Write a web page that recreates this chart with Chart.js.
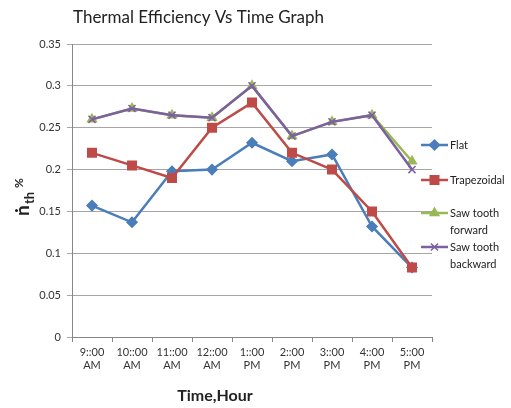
<!DOCTYPE html>
<html>
<head>
<meta charset="utf-8">
<script src="https://cdn.jsdelivr.net/npm/chart.js@4"></script>
<style>
  html, body { margin: 0; padding: 0; background: #fff; }
  #wrap { width: 511px; height: 408px; }
</style>
</head>
<body>
<div id="wrap"><canvas id="chart"></canvas></div>
<script>
// data
const timeLabels = [
  ["9::00", "AM"], ["10::00", "AM"], ["11::00", "AM"], ["12::00", "AM"],
  ["1::00", "PM"], ["2::00", "PM"], ["3::00", "PM"], ["4::00", "PM"], ["5::00", "PM"],
];
const flat = [0.157, 0.137, 0.198, 0.2, 0.232, 0.21, 0.218, 0.132, 0.083];
const trapezoidal = [0.22, 0.205, 0.19, 0.25, 0.28, 0.22, 0.2, 0.15, 0.083];
const sawForward = [0.26, 0.273, 0.265, 0.262, 0.3, 0.24, 0.257, 0.265, 0.21];
const sawBackward = [0.26, 0.273, 0.265, 0.262, 0.3, 0.24, 0.257, 0.265, 0.2];
const seriesNames = [["Flat"], ["Trapezoidal"], ["Saw tooth", "forward"], ["Saw tooth", "backward"]];

const FONT = "Lato, 'Open Sans', sans-serif";

// title, axis titles and the legend are drawn by hand (Excel style)
const extras = {
  id: "extras",
  afterDraw(chart) {
    const ctx = chart.ctx;
    const area = chart.chartArea;
    ctx.save();

    // chart title
    ctx.fillStyle = "#222";
    ctx.font = "17px " + FONT;
    ctx.textAlign = "left";
    ctx.textBaseline = "alphabetic";
    ctx.fillText("Thermal Efficiency Vs Time Graph", area.left + 1, 23);

    // x axis title
    ctx.font = "bold 16px " + FONT;
    ctx.textAlign = "center";
    ctx.fillText("Time,Hour", area.left + 143, 401);

    // y axis title: eta-dot, subscript th, %
    ctx.save();
    ctx.translate(29, 190);
    ctx.rotate(-Math.PI / 2);
    ctx.textAlign = "left";
    ctx.font = "bold 19px " + FONT;
    ctx.fillText("\u1E45", -26, 0);
    ctx.font = "bold 13px " + FONT;
    ctx.fillText("th", -14, 5);
    ctx.font = "bold 12px " + FONT;
    ctx.fillText("%", 2, -6);
    ctx.restore();

    // legend
    const rows = [145, 180, 213, 247];
    chart.data.datasets.forEach((ds, i) => {
      const y = rows[i];
      ctx.strokeStyle = ds.borderColor;
      ctx.fillStyle = ds.pointBackgroundColor;
      ctx.lineWidth = 2.5;
      ctx.beginPath();
      ctx.moveTo(421, y);
      ctx.lineTo(448, y);
      ctx.stroke();
      ctx.lineWidth = ds.pointBorderWidth;
      Chart.helpers.drawPoint(ctx, {
        pointStyle: ds.pointStyle,
        radius: ds.pointRadius,
        borderWidth: ds.pointBorderWidth,
        rotation: 0,
      }, 434.5, y);
      ctx.fillStyle = "#222";
      ctx.font = "11px " + FONT;
      ctx.textAlign = "left";
      ctx.textBaseline = "middle";
      seriesNames[i].forEach((t, k) => ctx.fillText(t, 450, y + k * 17));
    });
    ctx.restore();
  },
};

function lineSet(label, data, color, style, radius, order) {
  return {
    label: label,
    data: data,
    borderColor: color,
    backgroundColor: color,
    pointBackgroundColor: color,
    pointBorderColor: color,
    pointStyle: style,
    pointRadius: radius,
    pointBorderWidth: 1.5,
    borderWidth: 2.5,
    tension: 0,
    order: order,
  };
}

new Chart(document.getElementById("chart"), {
  type: "line",
  data: {
    labels: timeLabels,
    datasets: [
      lineSet("Flat", flat, "#4a7ebb", "rectRot", 5, 4),
      lineSet("Trapezoidal", trapezoidal, "#be4b48", "rect", 6, 3),
      lineSet("Saw tooth forward", sawForward, "#98b954", "triangle", 5, 2),
      lineSet("Saw tooth backward", sawBackward, "#7d60a0", "crossRot", 5, 1),
    ],
  },
  options: {
    responsive: true,
    maintainAspectRatio: false,
    animation: false,
    layout: { padding: { left: 0, right: 79, top: 44, bottom: 0 } },
    plugins: {
      legend: { display: false },
      title: { display: false },
      tooltip: { enabled: false },
    },
    scales: {
      x: {
        offset: true,
        afterFit: (scale) => { scale.height = 71; },
        grid: {
          offset: true,
          drawOnChartArea: false,
          drawTicks: true,
          tickLength: 5,
          color: "#868686",
        },
        border: { color: "#868686", width: 1 },
        ticks: {
          color: "#333",
          font: { family: FONT, size: 11 },
          maxRotation: 0,
          autoSkip: false,
          padding: 4,
        },
      },
      y: {
        min: 0,
        max: 0.35,
        afterFit: (scale) => { scale.width = 72; },
        grid: { color: "#a6a6a6", lineWidth: 1, tickLength: 5 },
        border: { color: "#868686", width: 1 },
        ticks: {
          stepSize: 0.05,
          color: "#333",
          font: { family: FONT, size: 11 },
          padding: 6,
          callback: (v) => Math.round(v * 100) / 100,
        },
      },
    },
  },
  plugins: [extras],
});
</script>
</body>
</html>
